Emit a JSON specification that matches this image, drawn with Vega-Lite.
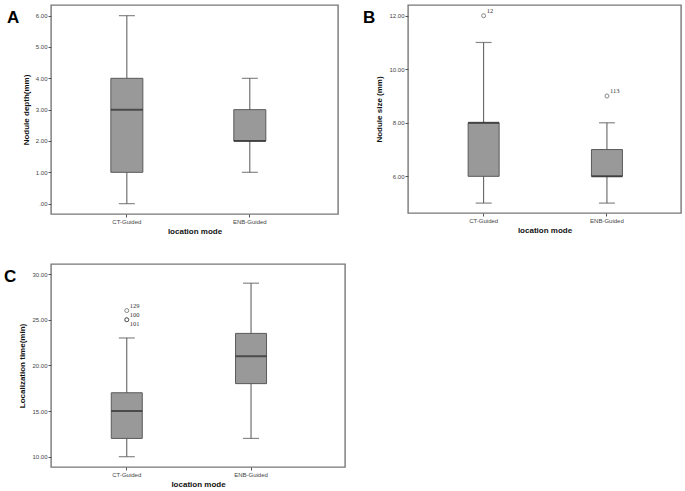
{
  "$schema": "https://vega.github.io/schema/vega-lite/v6.json",
  "padding": {"left": 3, "top": 4, "right": 4, "bottom": 4},
  "background": "white",
  "columns": 2,
  "bounds": "flush",
  "align": "each",
  "spacing": {"row": 50, "column": 63},
  "config": {
    "view": {"stroke": "#777777", "strokeWidth": 1.4},
    "title": {"anchor": "start", "frame": "group", "offset": -22, "baseline": "top", "fontSize": 17, "fontWeight": "bold", "font": "Liberation Sans", "color": "#000000"},
    "axis": {
      "domain": false, "grid": false, "labelOverlap": false,
      "labelFont": "Liberation Sans", "labelFontSize": 6, "labelColor": "#444444", "labelPadding": 1,
      "tickSize": 3, "tickColor": "#555555", "tickWidth": 1,
      "titleFont": "Liberation Sans", "titleFontWeight": "bold", "titleFontSize": 8, "titleColor": "#111111"
    },
    "axisX": {"labelAngle": 0, "titlePadding": 3},
    "axisY": {"titlePadding": 5}
  },
  "concat": [
    {
      "width": 287, "height": 209,
      "title": {"text": "A", "dx": -44},
      "data": {"values": [
        {"mode": "CT-Guided", "lo": 0, "q1": 1, "med": 3, "q3": 4, "hi": 6},
        {"mode": "ENB-Guided", "lo": 1, "q1": 2, "med": 2, "q3": 3, "hi": 4}
      ]},
      "encoding": {
        "x": {"field": "mode", "type": "nominal", "sort": ["CT-Guided", "ENB-Guided"],
              "scale": {"type": "band", "paddingInner": 0, "paddingOuter": 0.167, "align": 0.35},
              "axis": {"title": "location mode"}}
      },
      "layer": [
        {"mark": {"type": "rule", "color": "#555555", "strokeWidth": 1},
         "encoding": {
           "y": {"field": "lo", "type": "quantitative",
                 "scale": {"domain": [-0.33, 6.34], "nice": false, "zero": false},
                 "axis": {"title": "Nodule depth(mm)", "values": [0, 1, 2, 3, 4, 5, 6],
                          "labelExpr": "datum.value == 0 ? '.00' : format(datum.value, '.2f')"}},
           "y2": {"field": "hi"}}},
        {"mark": {"type": "tick", "size": 16, "thickness": 1.2, "color": "#555555"},
         "encoding": {"y": {"field": "lo", "type": "quantitative",
                 "axis": {"title": "Nodule depth(mm)", "values": [0, 1, 2, 3, 4, 5, 6],
                          "labelExpr": "datum.value == 0 ? '.00' : format(datum.value, '.2f')"}}}},
        {"mark": {"type": "tick", "size": 16, "thickness": 1.2, "color": "#555555"},
         "encoding": {"y": {"field": "hi", "type": "quantitative",
                 "axis": {"title": "Nodule depth(mm)", "values": [0, 1, 2, 3, 4, 5, 6],
                          "labelExpr": "datum.value == 0 ? '.00' : format(datum.value, '.2f')"}}}},
        {"mark": {"type": "bar", "size": 32, "fill": "#999999", "stroke": "#5a5a5a", "strokeWidth": 1},
         "encoding": {"y": {"field": "q1", "type": "quantitative",
                 "axis": {"title": "Nodule depth(mm)", "values": [0, 1, 2, 3, 4, 5, 6],
                          "labelExpr": "datum.value == 0 ? '.00' : format(datum.value, '.2f')"}}, "y2": {"field": "q3"}}},
        {"mark": {"type": "tick", "size": 32, "thickness": 2, "color": "#2a2a2a"},
         "encoding": {"y": {"field": "med", "type": "quantitative",
                 "axis": {"title": "Nodule depth(mm)", "values": [0, 1, 2, 3, 4, 5, 6],
                          "labelExpr": "datum.value == 0 ? '.00' : format(datum.value, '.2f')"}}}}
      ]
    },
    {
      "width": 273, "height": 208,
      "title": {"text": "B", "dx": -45},
      "encoding": {
        "x": {"field": "mode", "type": "nominal", "sort": ["CT-Guided", "ENB-Guided"],
              "scale": {"type": "band", "paddingInner": 0, "paddingOuter": 0.107, "align": 0.53},
              "axis": {"title": "location mode"}}
      },
      "layer": [
        {"data": {"values": [
          {"mode": "CT-Guided", "lo": 5, "q1": 6, "med": 8, "q3": 8, "hi": 11},
          {"mode": "ENB-Guided", "lo": 5, "q1": 6, "med": 6, "q3": 7, "hi": 8}
         ]},
         "layer": [
          {"mark": {"type": "rule", "color": "#555555", "strokeWidth": 1},
           "encoding": {
             "y": {"field": "lo", "type": "quantitative",
                   "scale": {"domain": [4.63, 12.4], "nice": false, "zero": false},
                   "axis": {"title": "Nodule size (mm)", "values": [6, 8, 10, 12], "labelExpr": "format(datum.value, '.2f')"}},
             "y2": {"field": "hi"}}},
          {"mark": {"type": "tick", "size": 16, "thickness": 1.2, "color": "#555555"},
           "encoding": {"y": {"field": "lo", "type": "quantitative",
                   "axis": {"title": "Nodule size (mm)", "values": [6, 8, 10, 12], "labelExpr": "format(datum.value, '.2f')"}}}},
          {"mark": {"type": "tick", "size": 16, "thickness": 1.2, "color": "#555555"},
           "encoding": {"y": {"field": "hi", "type": "quantitative",
                   "axis": {"title": "Nodule size (mm)", "values": [6, 8, 10, 12], "labelExpr": "format(datum.value, '.2f')"}}}},
          {"mark": {"type": "bar", "size": 31, "fill": "#999999", "stroke": "#5a5a5a", "strokeWidth": 1},
           "encoding": {"y": {"field": "q1", "type": "quantitative",
                   "axis": {"title": "Nodule size (mm)", "values": [6, 8, 10, 12], "labelExpr": "format(datum.value, '.2f')"}}, "y2": {"field": "q3"}}},
          {"mark": {"type": "tick", "size": 31, "thickness": 2, "color": "#2a2a2a"},
           "encoding": {"y": {"field": "med", "type": "quantitative",
                   "axis": {"title": "Nodule size (mm)", "values": [6, 8, 10, 12], "labelExpr": "format(datum.value, '.2f')"}}}}
         ]},
        {"data": {"values": [
          {"mode": "CT-Guided", "value": 12, "case": "12"},
          {"mode": "ENB-Guided", "value": 9, "case": "113"}
         ]},
         "layer": [
          {"mark": {"type": "point", "shape": "circle", "filled": false, "size": 16, "stroke": "#444444", "strokeWidth": 0.9},
           "encoding": {"y": {"field": "value", "type": "quantitative",
                   "axis": {"title": "Nodule size (mm)", "values": [6, 8, 10, 12], "labelExpr": "format(datum.value, '.2f')"}}}},
          {"mark": {"type": "text", "align": "left", "baseline": "middle", "dx": 3, "dy": -5, "font": "Liberation Serif", "fontSize": 6.5, "color": "#333333"},
           "encoding": {"y": {"field": "value", "type": "quantitative",
                   "axis": {"title": "Nodule size (mm)", "values": [6, 8, 10, 12], "labelExpr": "format(datum.value, '.2f')"}}, "text": {"field": "case"}}}
         ]}
      ]
    },
    {
      "width": 294, "height": 203,
      "title": {"text": "C", "dx": -47},
      "encoding": {
        "x": {"field": "mode", "type": "nominal", "sort": ["CT-Guided", "ENB-Guided"],
              "scale": {"type": "band", "paddingInner": 0, "paddingOuter": 0.183, "align": 0.3},
              "axis": {"title": "location mode"}}
      },
      "layer": [
        {"data": {"values": [
          {"mode": "CT-Guided", "lo": 10, "q1": 12, "med": 15, "q3": 17, "hi": 23},
          {"mode": "ENB-Guided", "lo": 12, "q1": 18, "med": 21, "q3": 23.5, "hi": 29}
         ]},
         "layer": [
          {"mark": {"type": "rule", "color": "#555555", "strokeWidth": 1},
           "encoding": {
             "y": {"field": "lo", "type": "quantitative",
                   "scale": {"domain": [8.87, 31.1], "nice": false, "zero": false},
                   "axis": {"title": "Localization time(min)", "values": [10, 15, 20, 25, 30], "labelExpr": "format(datum.value, '.2f')"}},
             "y2": {"field": "hi"}}},
          {"mark": {"type": "tick", "size": 16, "thickness": 1.2, "color": "#555555"},
           "encoding": {"y": {"field": "lo", "type": "quantitative",
                   "axis": {"title": "Localization time(min)", "values": [10, 15, 20, 25, 30], "labelExpr": "format(datum.value, '.2f')"}}}},
          {"mark": {"type": "tick", "size": 16, "thickness": 1.2, "color": "#555555"},
           "encoding": {"y": {"field": "hi", "type": "quantitative",
                   "axis": {"title": "Localization time(min)", "values": [10, 15, 20, 25, 30], "labelExpr": "format(datum.value, '.2f')"}}}},
          {"mark": {"type": "bar", "size": 31, "fill": "#999999", "stroke": "#5a5a5a", "strokeWidth": 1},
           "encoding": {"y": {"field": "q1", "type": "quantitative",
                   "axis": {"title": "Localization time(min)", "values": [10, 15, 20, 25, 30], "labelExpr": "format(datum.value, '.2f')"}}, "y2": {"field": "q3"}}},
          {"mark": {"type": "tick", "size": 31, "thickness": 2, "color": "#2a2a2a"},
           "encoding": {"y": {"field": "med", "type": "quantitative",
                   "axis": {"title": "Localization time(min)", "values": [10, 15, 20, 25, 30], "labelExpr": "format(datum.value, '.2f')"}}}}
         ]},
        {"data": {"values": [
          {"mode": "CT-Guided", "value": 26, "case": "129"},
          {"mode": "CT-Guided", "value": 25, "case": "100"},
          {"mode": "CT-Guided", "value": 25, "case": "101"}
         ]},
         "layer": [
          {"mark": {"type": "point", "shape": "circle", "filled": false, "size": 16, "stroke": "#444444", "strokeWidth": 0.9},
           "encoding": {"y": {"field": "value", "type": "quantitative",
                   "axis": {"title": "Localization time(min)", "values": [10, 15, 20, 25, 30], "labelExpr": "format(datum.value, '.2f')"}}}},
          {"transform": [{"filter": "datum.case != '101'"}],
           "mark": {"type": "text", "align": "left", "baseline": "middle", "dx": 3, "dy": -5, "font": "Liberation Serif", "fontSize": 6.5, "color": "#333333"},
           "encoding": {"y": {"field": "value", "type": "quantitative",
                   "axis": {"title": "Localization time(min)", "values": [10, 15, 20, 25, 30], "labelExpr": "format(datum.value, '.2f')"}}, "text": {"field": "case"}}},
          {"transform": [{"filter": "datum.case == '101'"}],
           "mark": {"type": "text", "align": "left", "baseline": "middle", "dx": 3, "dy": 4.5, "font": "Liberation Serif", "fontSize": 6.5, "color": "#333333"},
           "encoding": {"y": {"field": "value", "type": "quantitative",
                   "axis": {"title": "Localization time(min)", "values": [10, 15, 20, 25, 30], "labelExpr": "format(datum.value, '.2f')"}}, "text": {"field": "case"}}}
         ]}
      ]
    }
  ]
}
